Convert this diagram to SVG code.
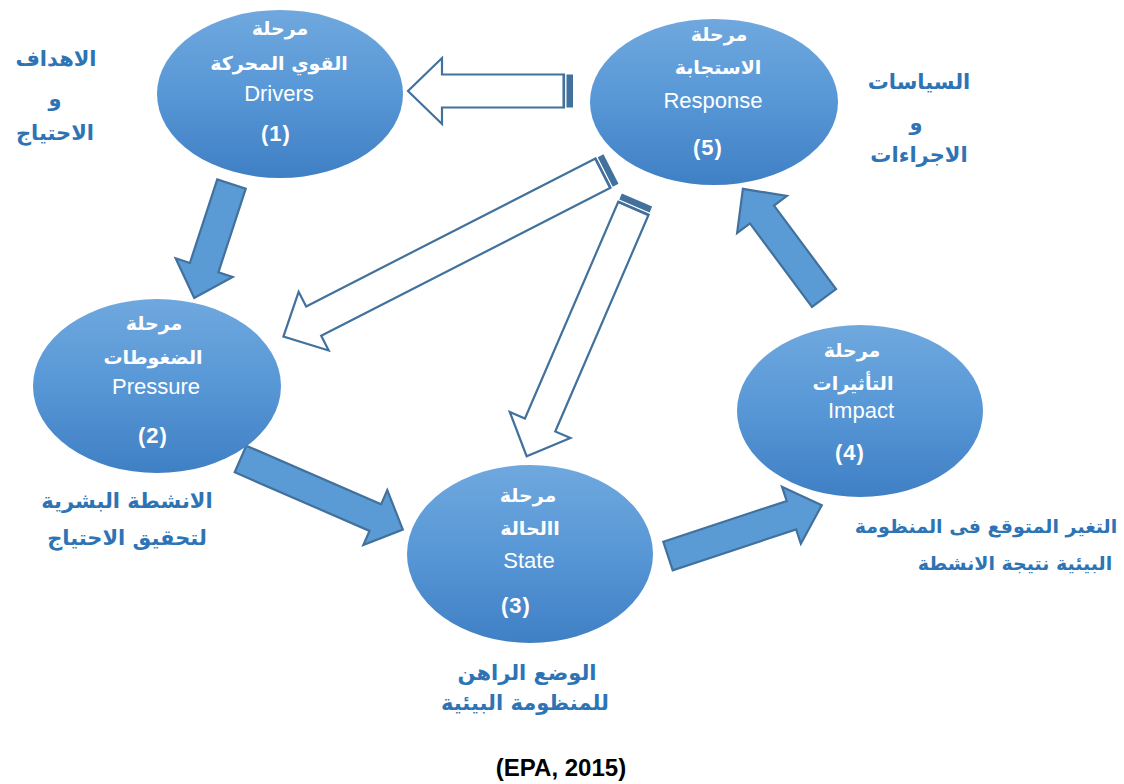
<svg xmlns="http://www.w3.org/2000/svg" width="1124" height="784" viewBox="0 0 1124 784">
<defs>
<linearGradient id="eg" x1="0" y1="0" x2="0" y2="1">
<stop offset="0" stop-color="#6fa8de"/>
<stop offset="0.5" stop-color="#5797d6"/>
<stop offset="1" stop-color="#3f7fc4"/>
</linearGradient>
</defs>
<style>
.ell{fill:url(#eg);}
.ar{font-family:"DejaVu Sans","Liberation Sans",sans-serif;font-weight:bold;font-size:19px;fill:#ffffff;text-anchor:middle;}
.en{font-family:"Liberation Sans",Arial,sans-serif;font-size:22px;fill:#ffffff;text-anchor:middle;}
.num{font-family:"Liberation Sans",Arial,sans-serif;font-weight:bold;font-size:22px;fill:#ffffff;text-anchor:middle;letter-spacing:1px;}
.lbl{font-family:"DejaVu Sans","Liberation Sans",sans-serif;font-weight:bold;font-size:21px;fill:#2e74b5;text-anchor:middle;}
.sm{font-size:19px;}
.sa{fill:#5b9bd5;stroke:#41719c;stroke-width:2.2;stroke-linejoin:miter;}
.ha{fill:#ffffff;stroke:#41719c;stroke-width:2.2;stroke-linejoin:miter;}
.hs{fill:#41719c;}
.foot{font-family:"Liberation Sans",Arial,sans-serif;font-weight:bold;font-size:24px;fill:#000000;text-anchor:middle;}
</style>
<rect width="1124" height="784" fill="#ffffff"/>

<g id="connectors">
<g transform="translate(231.5,184) rotate(108.1)"><path class="sa" d="M0,-15 H88 V-30 L120,0 L88,30 V15 H0 Z"/></g>
<g transform="translate(240.5,459) rotate(23.5)"><path class="sa" d="M0,-14.5 H147 V-30 L177,0 L147,30 V14.5 H0 Z"/></g>
<g transform="translate(668,556) rotate(-18.3)"><path class="sa" d="M0,-15 H130 V-30 L162,0 L130,30 V15 H0 Z"/></g>
<g transform="translate(824,298) rotate(-126.6)"><path class="sa" d="M0,-15 H104 V-31 L136,0 L104,31 V15 H0 Z"/></g>
<g transform="translate(573,91) rotate(180)">
<path class="ha" d="M9,-16.5 H131 V-33 L165,0 L131,33 V16.5 H9 Z"/>
<rect class="hs" x="0" y="-16.5" width="6.5" height="33"/>
<rect class="hs" x="8" y="-16.5" width="2.5" height="33"/>
</g>
<g transform="translate(611,169) rotate(152.9)">
<path class="ha" d="M9,-16.5 H334 V-33 L368,0 L334,33 V16.5 H9 Z"/>
<rect class="hs" x="0" y="-16.5" width="6.5" height="33"/>
<rect class="hs" x="8" y="-16.5" width="2.5" height="33"/>
</g>
<g transform="translate(637,200) rotate(113.3)">
<path class="ha" d="M9,-16.5 H245 V-33 L279,0 L245,33 V16.5 H9 Z"/>
<rect class="hs" x="0" y="-16.5" width="6.5" height="33"/>
<rect class="hs" x="8" y="-16.5" width="2.5" height="33"/>
</g>
</g>

<g id="node1">
<ellipse class="ell" cx="280" cy="94" rx="123" ry="84"/>
<text class="ar" x="280" y="35">مرحلة</text>
<text class="ar" x="279" y="70">القوي المحركة</text>
<text class="en" x="279" y="101">Drivers</text>
<text class="num" x="276" y="141">(1)</text>
</g>

<g id="node5">
<ellipse class="ell" cx="714" cy="102" rx="124" ry="83"/>
<text class="ar" x="719" y="41">مرحلة</text>
<text class="ar" x="718" y="74">الاستجابة</text>
<text class="en" x="713" y="108">Response</text>
<text class="num" x="708" y="155">(5)</text>
</g>

<g id="node2">
<ellipse class="ell" cx="157" cy="386" rx="124" ry="87"/>
<text class="ar" x="154" y="330">مرحلة</text>
<text class="ar" x="153" y="364">الضغوطات</text>
<text class="en" x="156" y="394">Pressure</text>
<text class="num" x="153" y="443">(2)</text>
</g>

<g id="node3">
<ellipse class="ell" cx="530" cy="554" rx="123" ry="89"/>
<text class="ar" x="528" y="502">مرحلة</text>
<text class="ar" x="530" y="535">االحالة</text>
<text class="en" x="529" y="568">State</text>
<text class="num" x="516" y="613">(3)</text>
</g>

<g id="node4">
<ellipse class="ell" cx="860" cy="411" rx="123" ry="86"/>
<text class="ar" x="852" y="357">مرحلة</text>
<text class="ar" x="853" y="390">التأثيرات</text>
<text class="en" x="861" y="418">Impact</text>
<text class="num" x="850" y="460">(4)</text>
</g>

<g id="labels">
<text class="lbl" x="56" y="66">الاهداف</text>
<text class="lbl" x="55" y="106">و</text>
<text class="lbl" x="55" y="140">الاحتياج</text>
<text class="lbl" x="919" y="89">السياسات</text>
<text class="lbl" x="916" y="130">و</text>
<text class="lbl" x="919" y="162">الاجراءات</text>
<text class="lbl" x="127" y="508">الانشطة البشرية</text>
<text class="lbl" x="127" y="545">لتحقيق الاحتياج</text>
<text class="lbl" x="527" y="680">الوضع الراهن</text>
<text class="lbl" x="525" y="710">للمنظومة البيئية</text>
<text class="lbl sm" x="986" y="533">التغير المتوقع فى المنظومة</text>
<text class="lbl sm" x="1015" y="570">البيئية نتيجة الانشطة</text>
</g>

<text id="caption" class="foot" x="561" y="776">(EPA, 2015)</text>
</svg>
